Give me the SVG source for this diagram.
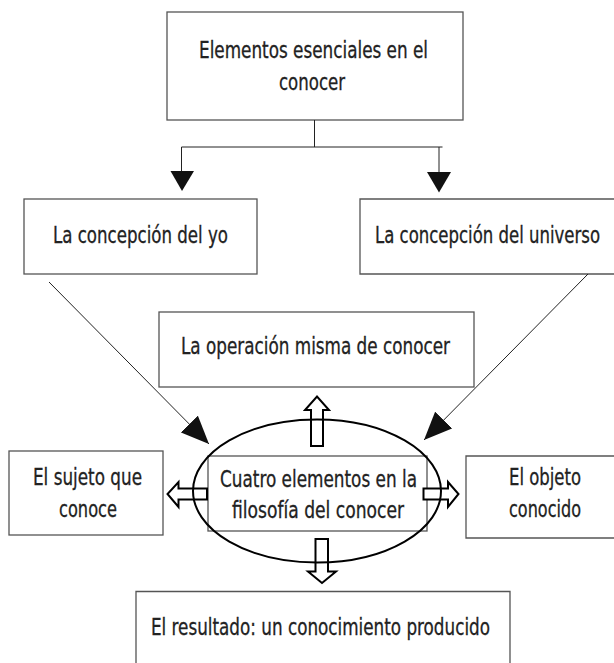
<svg xmlns="http://www.w3.org/2000/svg" width="614" height="663" viewBox="0 0 614 663">
<style>
.box{fill:#fff;stroke:#555;stroke-width:1.3}
.t{font-family:"Liberation Sans Narrow","DejaVu Sans Condensed","DejaVu Sans","Liberation Sans",sans-serif;font-size:23px;fill:#222;stroke:#222;stroke-width:0.3}
.ln{stroke:#222;stroke-width:1;fill:none}
.hollow{fill:#fff;stroke:#000;stroke-width:2;stroke-linejoin:miter}
</style>
<defs>
<marker id="ah" markerUnits="userSpaceOnUse" markerWidth="28" markerHeight="24" refX="28" refY="12" orient="auto">
<path d="M0,0 L28,12 L0,24 z" fill="#111"/>
</marker>
</defs>
<rect width="614" height="663" fill="#fff"/>
<g id="n-top">
<rect class="box" x="167" y="12" width="296" height="108"/>
<text class="t" x="199" y="58" textLength="229" lengthAdjust="spacingAndGlyphs">Elementos esenciales en el</text>
<text class="t" x="279" y="90" textLength="66" lengthAdjust="spacingAndGlyphs">conocer</text>
</g>
<g id="n-yo">
<rect class="box" x="24" y="199" width="233" height="75"/>
<text class="t" x="53" y="243" textLength="175" lengthAdjust="spacingAndGlyphs">La concepción del yo</text>
</g>
<g id="n-universo">
<path class="box" d="M614,199 H360 V274 H614"/>
<text class="t" transform="translate(375,243) scale(0.75,1)" x="0" y="0" textLength="300" lengthAdjust="spacingAndGlyphs">La concepción del universo</text>
</g>
<g id="n-operacion">
<rect class="box" x="159" y="312" width="315" height="75"/>
<text class="t" x="181" y="354" textLength="269" lengthAdjust="spacingAndGlyphs">La operación misma de conocer</text>
</g>
<g id="n-sujeto">
<rect class="box" x="9" y="451" width="154" height="84"/>
<text class="t" x="33" y="485" textLength="109" lengthAdjust="spacingAndGlyphs">El sujeto que</text>
<text class="t" x="59" y="517" textLength="58" lengthAdjust="spacingAndGlyphs">conoce</text>
</g>
<g id="n-objeto">
<path class="box" d="M614,456 H466 V538 H614"/>
<text class="t" x="509" y="485" textLength="72" lengthAdjust="spacingAndGlyphs">El objeto</text>
<text class="t" x="509" y="517" textLength="72" lengthAdjust="spacingAndGlyphs">conocido</text>
</g>
<g id="n-resultado">
<path class="box" d="M136,663 V591.5 H510 V663"/>
<text class="t" x="151" y="635" textLength="339" lengthAdjust="spacingAndGlyphs">El resultado: un conocimiento producido</text>
</g>
<g id="n-centro">
<rect class="box" x="208" y="456" width="219" height="75"/>
<text class="t" x="220" y="487" textLength="197" lengthAdjust="spacingAndGlyphs">Cuatro elementos en la</text>
<text class="t" x="232" y="518" textLength="172" lengthAdjust="spacingAndGlyphs">filosofía del conocer</text>
</g>
<g id="connectors">
<path class="ln" d="M314.5,120 V147 M181.5,147 H442.5 M181.5,147 V171 M439,147 V172"/>
<polygon points="170.5,171 194,171 182,191" fill="#111"/>
<polygon points="427,172 451,172 439,192.5" fill="#111"/>
<line class="ln" x1="49" y1="282" x2="209" y2="444" marker-end="url(#ah)"/>
<line class="ln" x1="588" y1="274" x2="424" y2="440" marker-end="url(#ah)"/>
<polygon class="hollow" points="207,488.5 178.5,488.5 178.5,482 167.5,494 178.5,507 178.5,499.5 207,499.5"/>
<polygon class="hollow" points="423.5,488.5 448,488.5 448,482 458.5,494 448,507 448,499.5 423.5,499.5"/>
<polygon class="hollow" points="311,446 323,446 323,410 329,410 317,396.5 305,410 311,410"/>
<polygon class="hollow" points="315.5,539 328,539 328,571.5 336,571.5 322,583 308,571.5 315.5,571.5"/>
<ellipse cx="317" cy="491" rx="124" ry="71.5" fill="none" stroke="#000" stroke-width="2"/>
</g>
</svg>
